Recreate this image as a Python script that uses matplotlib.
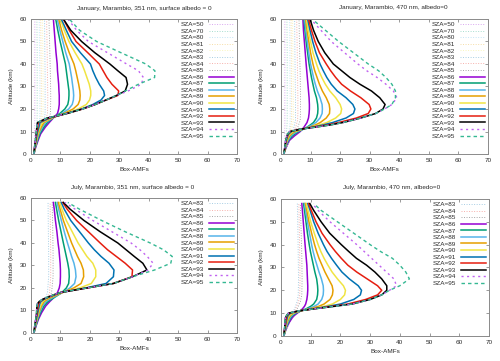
import matplotlib
matplotlib.use("Agg")
import matplotlib.pyplot as plt

plt.rcParams['font.family'] = ['Liberation Sans', 'DejaVu Sans']

# ---------------- colours (gnuplot default line types) ----------------
LT_COLORS = ['#9400d3', '#009e73', '#56b4e9', '#e69f00', '#f0e442', '#0072b2', '#e51e10', '#000000']

# ---------------- titles ----------------
TITLES = ["January, Marambio, 351 nm, surface albedo = 0",
          "January, Marambio, 470 nm, albedo=0",
          "July, Marambio, 351 nm, surface albedo = 0",
          "July, Marambio, 470 nm, albedo=0"]

X_TICKS = [0, 10, 20, 30, 40, 50, 60, 70]
Y_TICKS = [0, 10, 20, 30, 40, 50, 60]

# ---------------- faint dotted curves (low SZA) ----------------
SZA_FAINT_TOP = [50, 70, 80, 81, 82, 83, 84, 85]
SZA_FAINT_BOT = [83, 84, 85]
SZA_MAIN = [86, 87, 88, 89, 90, 91, 92, 93, 94, 95]

ALT_TL_F = [0, 3, 6, 9, 12, 15, 18, 25, 35, 45, 60]
TL_50 = [1.0, 1.1, 1.15, 1.2, 1.25, 1.3, 1.3, 1.3, 1.3, 1.3, 1.3]
TL_70 = [1.0, 1.3, 1.5, 1.7, 1.9, 2.05, 2.1, 2.1, 2.1, 2.1, 2.0]
TL_80 = [1.0, 1.4, 1.8, 2.2, 2.6, 2.9, 3.0, 3.0, 3.0, 2.9, 2.8]
TL_81 = [1.0, 1.45, 1.9, 2.4, 2.9, 3.3, 3.5, 3.5, 3.5, 3.4, 3.3]
TL_82 = [1.0, 1.5, 2.0, 2.6, 3.3, 3.8, 4.1, 4.1, 4.1, 4.0, 3.9]
TL_83 = [1.0, 1.5, 2.1, 2.8, 3.7, 4.4, 4.8, 4.8, 4.8, 4.7, 4.6]
TL_84 = [1.0, 1.55, 2.2, 3.0, 4.1, 5.0, 5.6, 5.7, 5.6, 5.5, 5.3]
TL_85 = [1.0, 1.6, 2.3, 3.1, 4.5, 5.8, 6.6, 6.7, 6.6, 6.4, 6.1]

ALT_TR_F = [0, 3, 6, 9, 12, 15, 18, 25, 35, 45, 60]
TR_50 = [1.0, 1.1, 1.2, 1.25, 1.3, 1.3, 1.3, 1.3, 1.3, 1.3, 1.3]
TR_70 = [1.0, 1.35, 1.6, 1.8, 2.0, 2.1, 2.1, 2.1, 2.1, 2.1, 2.0]
TR_80 = [1.0, 1.5, 2.0, 2.5, 2.9, 3.1, 3.1, 3.1, 3.0, 3.0, 2.9]
TR_81 = [1.0, 1.6, 2.2, 2.8, 3.3, 3.6, 3.6, 3.6, 3.5, 3.5, 3.4]
TR_82 = [1.0, 1.7, 2.4, 3.1, 3.8, 4.2, 4.2, 4.2, 4.1, 4.0, 3.9]
TR_83 = [1.0, 1.8, 2.6, 3.5, 4.4, 4.9, 4.9, 4.9, 4.8, 4.7, 4.6]
TR_84 = [1.0, 1.9, 2.8, 3.9, 5.0, 5.6, 5.7, 5.7, 5.6, 5.5, 5.3]
TR_85 = [1.0, 2.0, 3.0, 4.3, 5.7, 6.5, 6.6, 6.6, 6.5, 6.3, 6.1]

ALT_BL_F = [0, 3, 6, 9, 12, 15, 18, 25, 35, 45, 58]
BL_83 = [1.0, 1.5, 2.1, 2.8, 3.8, 4.8, 5.6, 6.0, 6.0, 5.9, 5.8]
BL_84 = [1.0, 1.55, 2.2, 3.0, 4.2, 5.4, 6.3, 6.7, 6.7, 6.6, 6.5]
BL_85 = [1.0, 1.6, 2.3, 3.2, 4.6, 6.0, 7.0, 7.5, 7.5, 7.4, 7.2]

ALT_BR_F = [0, 3, 6, 9, 12, 15, 18, 25, 35, 45, 58]
BR_83 = [1.0, 1.7, 2.5, 3.5, 4.6, 5.4, 5.8, 5.9, 5.8, 5.7, 5.5]
BR_84 = [1.0, 1.8, 2.7, 3.8, 5.0, 5.9, 6.3, 6.4, 6.3, 6.2, 6.0]
BR_85 = [1.0, 1.9, 2.9, 4.1, 5.5, 6.5, 7.0, 7.1, 7.0, 6.8, 6.5]

# ---------------- January 351 nm (top left) ----------------
ALT_TL = [0, 3, 6, 9, 12, 14, 16, 17, 18, 20, 22, 24, 26, 28, 31, 34, 37, 40, 45, 50, 55, 60]
TL_86 = [1.0, 1.6, 2.4, 3.3, 4.9, 6.2, 7.6, 8.3, 9.0, 9.4, 9.6, 9.6, 9.6, 9.5, 9.4, 9.2, 9.0, 8.9, 8.5, 8.2, 7.9, 7.6]
TL_87 = [1.0, 1.5, 2.2, 3.0, 4.4, 5.6, 7.4, 8.6, 9.8, 11.5, 12.5, 12.8, 12.9, 12.9, 12.6, 12.3, 12.0, 11.7, 10.8, 9.9, 9.1, 8.4]
TL_88 = [1.0, 1.45, 2.0, 2.7, 3.9, 5.0, 7.3, 8.8, 10.5, 12.8, 14.0, 14.4, 14.5, 14.4, 14.1, 13.8, 13.4, 13.0, 11.8, 10.8, 9.8, 8.9]
TL_89 = [1.0, 1.4, 1.9, 2.5, 3.5, 4.4, 7.2, 9.0, 11.2, 14.3, 16.0, 16.6, 16.7, 16.6, 16.2, 15.7, 15.2, 14.6, 13.0, 11.6, 10.4, 9.4]
TL_90 = [1.0, 1.35, 1.8, 2.3, 3.1, 3.8, 7.0, 9.2, 11.8, 16.0, 18.8, 19.9, 20.3, 20.3, 19.8, 19.0, 18.2, 17.3, 15.0, 12.9, 11.3, 10.0]
TL_91 = [1.0, 1.3, 1.7, 2.1, 2.7, 3.1, 6.5, 9.3, 12.0, 17.2, 21.0, 23.8, 25.0, 24.7, 23.2, 22.0, 21.0, 20.2, 16.8, 13.8, 12.0, 10.3]
TL_92 = [1.0, 1.25, 1.6, 1.9, 2.3, 2.5, 6.0, 9.3, 12.2, 17.5, 21.8, 25.5, 29.5, 29.8, 27.5, 25.8, 24.5, 23.2, 19.3, 15.3, 13.0, 11.0]
TL_93 = [1.0, 1.2, 1.5, 1.75, 2.0, 2.2, 5.5, 9.0, 12.2, 17.5, 21.8, 25.5, 29.0, 32.0, 32.8, 32.3, 29.5, 26.8, 21.7, 17.2, 13.5, 11.0]
TL_94 = [1.0, 1.2, 1.5, 1.75, 2.0, 2.2, 5.5, 9.0, 12.2, 17.5, 21.8, 25.5, 29.0, 33.0, 37.5, 38.2, 36.5, 32.5, 26.0, 19.5, 15.5, 12.5]
TL_95 = [1.0, 1.2, 1.5, 1.75, 2.0, 2.2, 5.5, 9.0, 12.2, 17.5, 21.8, 25.5, 29.0, 32.0, 36.5, 42.0, 42.1, 39.0, 30.6, 22.3, 16.5, 13.0]

# ---------------- January 470 nm (top right) ----------------
ALT_TR = [0, 2, 4, 6, 8, 9, 10, 11, 12, 13, 14, 16, 18, 20, 22, 25, 28, 31, 34, 37, 40, 45, 50, 55, 60]
TR_86 = [1.0, 1.4, 2.0, 2.8, 4.5, 5.5, 6.5, 7.2, 7.8, 8.3, 8.8, 9.3, 9.5, 9.6, 9.6, 9.5, 9.3, 9.1, 8.9, 8.7, 8.5, 8.2, 7.9, 7.6, 7.4]
TR_87 = [1.0, 1.35, 1.8, 2.5, 3.8, 4.8, 6.0, 7.5, 8.9, 10.0, 11.0, 12.0, 12.4, 12.5, 12.4, 12.0, 11.3, 10.8, 10.3, 9.9, 9.5, 9.0, 8.5, 8.1, 7.8]
TR_88 = [1.0, 1.3, 1.7, 2.3, 3.3, 4.2, 5.5, 7.5, 9.2, 10.6, 11.8, 13.2, 13.9, 14.0, 13.9, 13.2, 12.3, 11.6, 11.0, 10.5, 10.0, 9.4, 8.9, 8.4, 8.0]
TR_89 = [1.0, 1.3, 1.6, 2.1, 2.9, 3.6, 4.8, 7.2, 9.8, 11.8, 13.3, 15.3, 16.4, 16.5, 16.3, 15.3, 14.0, 13.0, 12.2, 11.4, 10.8, 10.0, 9.4, 8.8, 8.3]
TR_90 = [1.0, 1.25, 1.55, 1.9, 2.5, 3.1, 4.2, 6.8, 10.3, 13.2, 15.5, 18.5, 20.2, 20.5, 20.0, 18.5, 16.5, 15.0, 13.8, 12.8, 12.0, 10.8, 10.0, 9.2, 8.6]
TR_91 = [1.0, 1.2, 1.5, 1.8, 2.3, 2.7, 3.6, 6.3, 10.8, 14.5, 17.5, 22.0, 24.5, 25.0, 24.3, 22.0, 19.0, 17.0, 15.5, 14.3, 13.2, 11.8, 10.7, 9.8, 9.0]
TR_92 = [1.0, 1.2, 1.45, 1.7, 2.1, 2.5, 3.2, 6.2, 11.2, 16.0, 19.5, 25.5, 29.5, 30.4, 29.8, 27.0, 23.5, 20.5, 18.5, 16.8, 15.3, 13.0, 11.5, 10.3, 9.3]
TR_93 = [1.0, 1.2, 1.4, 1.6, 2.0, 2.3, 3.0, 6.5, 12.0, 17.0, 21.0, 27.0, 32.0, 34.5, 35.2, 33.4, 30.6, 26.7, 23.3, 20.5, 17.7, 14.8, 12.6, 11.0, 9.8]
TR_94 = [1.0, 1.2, 1.4, 1.6, 2.0, 2.3, 3.0, 6.5, 12.0, 17.0, 21.0, 27.0, 32.0, 35.0, 37.5, 39.2, 38.0, 35.5, 32.5, 29.0, 26.0, 21.5, 17.0, 13.5, 10.0]
TR_95 = [1.0, 1.2, 1.4, 1.6, 2.0, 2.3, 3.0, 6.5, 12.0, 17.0, 21.0, 27.0, 32.0, 35.0, 37.5, 38.7, 38.7, 37.5, 35.5, 33.0, 29.5, 24.5, 19.5, 15.0, 10.5]

# ---------------- July 351 nm (bottom left) ----------------
ALT_BL = [0, 3, 6, 9, 12, 13, 14, 15, 16, 17, 18, 20, 22, 25, 28, 31, 34, 37, 40, 45, 50, 55, 58]
BL_86 = [1.0, 1.7, 2.5, 3.6, 5.0, 5.7, 6.4, 7.2, 7.9, 8.5, 9.0, 9.6, 9.9, 10.0, 10.0, 9.9, 9.7, 9.5, 9.2, 8.8, 8.3, 7.9, 7.6]
BL_87 = [1.0, 1.6, 2.3, 3.2, 4.4, 5.1, 5.8, 7.0, 8.2, 9.4, 10.5, 12.0, 12.8, 13.0, 12.9, 12.5, 12.0, 11.5, 11.0, 10.2, 9.4, 8.7, 8.3]
BL_88 = [1.0, 1.5, 2.1, 2.9, 3.9, 4.5, 5.1, 6.3, 7.8, 9.3, 10.8, 13.2, 14.8, 15.3, 15.1, 14.6, 13.8, 13.1, 12.4, 11.3, 10.3, 9.4, 8.9]
BL_89 = [1.0, 1.45, 2.0, 2.7, 3.5, 4.0, 4.5, 5.6, 7.2, 9.0, 10.8, 14.5, 17.0, 17.9, 17.8, 17.0, 15.8, 14.8, 13.8, 12.4, 11.0, 9.9, 9.3]
BL_90 = [1.0, 1.4, 1.9, 2.5, 3.2, 3.6, 4.0, 5.0, 6.5, 8.5, 10.5, 16.5, 20.5, 22.0, 22.0, 21.0, 19.0, 17.5, 16.0, 14.0, 12.0, 10.5, 9.8]
BL_91 = [1.0, 1.35, 1.8, 2.3, 2.8, 3.0, 3.4, 4.5, 6.2, 8.2, 10.2, 18.5, 25.5, 28.0, 28.2, 26.5, 23.8, 21.5, 19.5, 16.5, 13.5, 11.3, 10.3]
BL_92 = [1.0, 1.3, 1.7, 2.1, 2.4, 2.6, 3.0, 4.2, 6.0, 8.0, 10.1, 19.0, 28.0, 34.3, 34.5, 32.0, 29.0, 26.0, 23.5, 19.5, 15.5, 12.3, 10.8]
BL_93 = [1.0, 1.25, 1.6, 1.9, 2.0, 2.2, 2.8, 4.0, 5.8, 7.8, 10.0, 19.0, 28.0, 34.5, 39.4, 38.0, 35.1, 32.3, 29.5, 23.5, 18.0, 13.3, 11.0]
BL_94 = [1.0, 1.25, 1.6, 1.9, 2.0, 2.2, 2.8, 4.0, 5.8, 7.8, 10.0, 19.0, 28.0, 34.5, 39.8, 41.5, 39.5, 37.0, 34.0, 27.5, 21.0, 15.0, 11.5]
BL_95 = [1.0, 1.25, 1.6, 1.9, 2.0, 2.2, 2.8, 4.0, 5.8, 7.8, 10.0, 19.0, 28.0, 34.5, 42.0, 47.5, 48.0, 45.0, 40.5, 32.0, 24.0, 16.5, 12.5]

# ---------------- July 470 nm (bottom right) ----------------
ALT_BR = [0, 2, 4, 6, 8, 9, 10, 11, 12, 13, 14, 16, 18, 20, 22, 25, 28, 31, 34, 37, 40, 45, 50, 55, 58]
BR_86 = [1.0, 1.4, 2.0, 2.8, 3.8, 4.5, 5.5, 6.5, 7.3, 7.9, 8.3, 8.7, 8.9, 9.0, 9.0, 8.9, 8.8, 8.7, 8.5, 8.3, 8.1, 7.8, 7.5, 7.2, 7.0]
BR_87 = [1.0, 1.35, 1.8, 2.5, 3.3, 4.0, 5.0, 6.8, 8.6, 10.0, 11.0, 12.0, 12.3, 12.4, 12.3, 12.0, 11.4, 10.9, 10.4, 9.9, 9.5, 8.9, 8.4, 7.9, 7.6]
BR_88 = [1.0, 1.3, 1.7, 2.3, 3.0, 3.6, 4.6, 6.7, 9.3, 11.2, 12.5, 13.7, 14.2, 14.3, 14.2, 13.6, 12.8, 12.1, 11.4, 10.8, 10.3, 9.6, 8.9, 8.3, 7.9]
BR_89 = [1.0, 1.25, 1.6, 2.1, 2.7, 3.2, 4.2, 6.6, 10.0, 12.7, 14.5, 16.5, 17.3, 17.5, 17.2, 16.0, 14.8, 13.8, 12.8, 12.0, 11.3, 10.3, 9.4, 8.7, 8.2]
BR_90 = [1.0, 1.2, 1.5, 1.9, 2.4, 2.8, 3.8, 6.4, 10.8, 14.5, 17.3, 20.0, 21.4, 21.7, 21.0, 19.0, 17.2, 15.8, 14.5, 13.4, 12.5, 11.2, 10.0, 9.1, 8.5]
BR_91 = [1.0, 1.15, 1.45, 1.75, 2.1, 2.4, 3.2, 6.2, 11.3, 16.0, 20.0, 24.5, 26.7, 27.1, 26.0, 23.0, 20.5, 18.7, 17.0, 15.5, 14.3, 12.5, 11.0, 9.8, 9.0]
BR_92 = [1.0, 1.1, 1.35, 1.6, 1.8, 2.1, 2.8, 6.1, 11.6, 17.2, 22.5, 28.5, 32.5, 33.9, 32.5, 29.0, 25.5, 22.5, 20.3, 18.3, 16.5, 13.8, 11.8, 10.2, 9.3]
BR_93 = [1.0, 1.1, 1.25, 1.35, 1.5, 1.9, 2.5, 6.0, 11.9, 18.0, 24.0, 30.0, 33.9, 35.6, 35.6, 33.9, 31.6, 28.8, 25.4, 22.8, 20.3, 16.4, 13.5, 11.0, 9.7]
BR_94 = [1.0, 1.1, 1.25, 1.35, 1.5, 1.9, 2.5, 6.0, 11.9, 18.0, 24.0, 30.0, 33.9, 36.5, 38.9, 38.0, 35.5, 33.0, 30.5, 28.0, 25.5, 21.0, 16.5, 12.5, 10.5]
BR_95 = [1.0, 1.1, 1.25, 1.35, 1.5, 1.9, 2.5, 6.0, 11.9, 18.0, 24.0, 30.0, 33.9, 36.5, 40.0, 43.2, 42.0, 40.0, 37.5, 33.5, 30.0, 24.5, 19.0, 13.5, 11.0]

# ---------------- assemble panels ----------------
PANELS = [
    dict(title=TITLES[0], rect=[0.062, 0.5734, 0.412, 0.374], title_xy=(144, 8.3),
         faint_alt=ALT_TL_F, faint_sza=SZA_FAINT_TOP,
         faint=[TL_50, TL_70, TL_80, TL_81, TL_82, TL_83, TL_84, TL_85],
         alt=ALT_TL, main=[TL_86, TL_87, TL_88, TL_89, TL_90, TL_91, TL_92, TL_93, TL_94, TL_95]),
    dict(title=TITLES[1], rect=[0.562, 0.5734, 0.414, 0.374], title_xy=(393, 7.0),
         faint_alt=ALT_TR_F, faint_sza=SZA_FAINT_TOP,
         faint=[TR_50, TR_70, TR_80, TR_81, TR_82, TR_83, TR_84, TR_85],
         alt=ALT_TR, main=[TR_86, TR_87, TR_88, TR_89, TR_90, TR_91, TR_92, TR_93, TR_94, TR_95]),
    dict(title=TITLES[2], rect=[0.062, 0.0776, 0.412, 0.374], title_xy=(132.5, 187),
         faint_alt=ALT_BL_F, faint_sza=SZA_FAINT_BOT,
         faint=[BL_83, BL_84, BL_85],
         alt=ALT_BL, main=[BL_86, BL_87, BL_88, BL_89, BL_90, BL_91, BL_92, BL_93, BL_94, BL_95]),
    dict(title=TITLES[3], rect=[0.562, 0.0693, 0.416, 0.3795], title_xy=(392, 187.5),
         faint_alt=ALT_BR_F, faint_sza=SZA_FAINT_BOT,
         faint=[BR_83, BR_84, BR_85],
         alt=ALT_BR, main=[BR_86, BR_87, BR_88, BR_89, BR_90, BR_91, BR_92, BR_93, BR_94, BR_95]),
]

W, H = 500, 361
FS = 4.6
GRAY = '#8a8a8a'
TXT = '#2a2a2a'

fig = plt.figure(figsize=(W / 100, H / 100), dpi=100)

for p in PANELS:
    ax = fig.add_axes(p['rect'])
    # faint dotted low-SZA curves
    if len(p['faint_sza']) == 8:
        fcols = LT_COLORS
    else:
        fcols = LT_COLORS[5:8]
    for sza, vals, col in zip(p['faint_sza'], p['faint'], fcols):
        ax.plot(vals, p['faint_alt'], color=col, lw=0.7, alpha=0.35,
                linestyle=(0, (1, 1.6)), label=f"SZA={sza}")
    # main curves
    for i, (sza, vals) in enumerate(zip(SZA_MAIN, p['main'])):
        if i < 8:
            ax.plot(vals, p['alt'], color=LT_COLORS[i], lw=1.1, label=f"SZA={sza}")
        elif i == 8:
            ax.plot(vals, p['alt'], color='#c061f0', lw=1.0,
                    linestyle=(0, (1.5, 2.5)), label=f"SZA={sza}")
        else:
            ax.plot(vals, p['alt'], color='#35b893', lw=1.0,
                    linestyle=(0, (2.5, 2.2)), label=f"SZA={sza}")

    ax.set_xlim(0, 70)
    ax.set_ylim(0, 60)
    ax.set_xticks(X_TICKS)
    ax.set_yticks(Y_TICKS)
    ax.tick_params(direction='in', length=2.5, width=0.6, color=GRAY,
                   labelsize=FS, labelcolor=TXT, top=True, right=True, pad=3)
    for s in ax.spines.values():
        s.set_color(GRAY)
        s.set_linewidth(0.7)
    ax.set_xlabel("Box-AMFs", fontsize=FS, color=TXT, labelpad=3)
    ax.set_ylabel("Altitude (km)", fontsize=FS, color=TXT, labelpad=4)
    fig.text(p['title_xy'][0] / W, 1 - p['title_xy'][1] / H, p['title'],
             ha='center', va='center', fontsize=FS, color=TXT)
    leg = ax.legend(loc='upper right', frameon=False, markerfirst=False,
                    fontsize=FS, handlelength=4.0, handletextpad=0.7,
                    labelspacing=0.17, borderaxespad=0.35, borderpad=0.1)
    for t in leg.get_texts():
        t.set_color(TXT)

fig.savefig("out.png", dpi=100)
